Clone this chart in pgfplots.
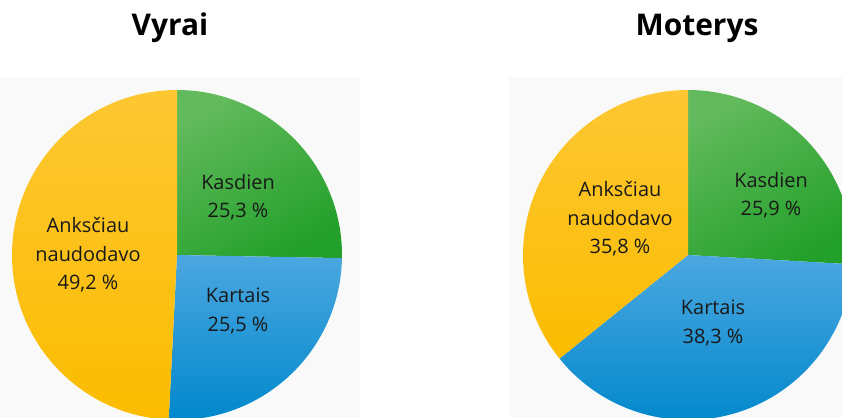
\documentclass[border=0pt]{standalone}
\usepackage{pgfplots}
\pgfplotsset{compat=1.18}
\usepackage{fontspec}
\setmainfont{Open Sans}
\definecolor{gTop}{HTML}{62BA5C}
\definecolor{gBot}{HTML}{23A02A}
\definecolor{bTop}{HTML}{4CA7E0}
\definecolor{bBot}{HTML}{0088CC}
\definecolor{yTop}{HTML}{FCC732}
\definecolor{yBot}{HTML}{FBBC00}
% slice: center x, center y, radius, start percent, value percent, style
\newcommand\slice[6]{%
  \path[#6] (axis cs:#1,#2) -- (axis cs:{#1+#3*cos(90-3.6*#4)},{#2+#3*sin(90-3.6*#4)})
    arc[start angle={90-3.6*#4}, end angle={90-3.6*(#4+#5)}, radius=#3bp] -- cycle;}
\begin{document}
\begin{tikzpicture}
\begin{axis}[name=ax, x=1bp, y=1bp, xmin=0, xmax=842, ymin=0, ymax=417,
  scale only axis, hide axis, clip=true]
% faint backgrounds
\fill[black!2.5] (axis cs:0,0) rectangle (axis cs:360,340);
\fill[black!2.5] (axis cs:509,0) rectangle (axis cs:842,340);
% Vyrai: Kasdien 25.3, Kartais 25.5, Anksciau 49.2
\slice{177}{162}{165}{0}{25.3}{top color=gTop, bottom color=gBot, shading angle=30}
\slice{177}{162}{165}{25.3}{25.5}{top color=bTop, bottom color=bBot}
\slice{177}{162}{165}{50.8}{49.2}{top color=yTop, bottom color=yBot}
% Moterys: Kasdien 25.9, Kartais 38.3, Anksciau 35.8
\slice{688}{162}{165}{0}{25.9}{top color=gTop, bottom color=gBot, shading angle=30}
\slice{688}{162}{165}{25.9}{38.3}{top color=bTop, bottom color=bBot}
\slice{688}{162}{165}{64.2}{35.8}{top color=yTop, bottom color=yBot}
% titles
\node[font=\fontsize{30}{36}\selectfont\bfseries] at (axis cs:170,389) {Vyrai};
\node[font=\fontsize{30}{36}\selectfont\bfseries] at (axis cs:697,389) {Moterys};
% labels
\tikzset{lab/.style={align=center, font=\fontsize{20}{28.5}\selectfont, text=black!90, inner sep=0pt}}
\node[lab] at (axis cs:238,220) {Kasdien\\25,3 \%};
\node[lab] at (axis cs:238,106) {Kartais\\25,5 \%};
\node[lab] at (axis cs:88,162) {Anksčiau\\naudodavo\\49,2 \%};
\node[lab] at (axis cs:771,222) {Kasdien\\25,9 \%};
\node[lab] at (axis cs:713,94) {Kartais\\38,3 \%};
\node[lab] at (axis cs:620,198) {Anksčiau\\naudodavo\\35,8 \%};
\end{axis}
\pgfresetboundingbox
\path (ax.south west) rectangle (ax.north east);
\end{tikzpicture}
\end{document}
